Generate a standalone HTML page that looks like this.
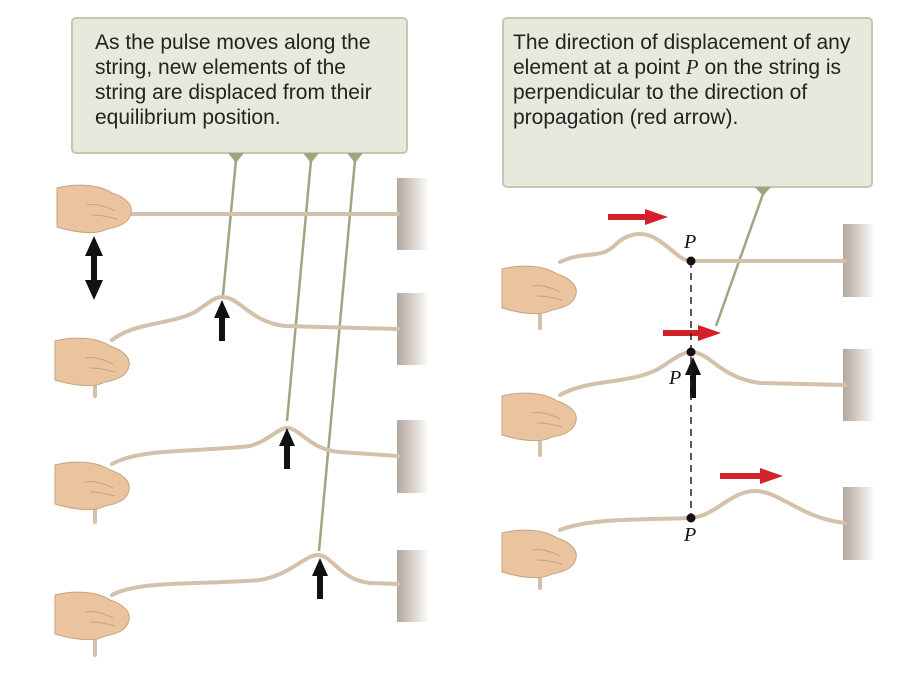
<!DOCTYPE html>
<html><head><meta charset="utf-8"><style>
html,body{margin:0;padding:0;background:#fff;}
svg{display:block;}
.s{font-family:"Liberation Sans",sans-serif;}
.p{font-family:"Liberation Serif",serif;font-style:italic;}
</style></head><body>
<svg width="900" height="681" viewBox="0 0 900 681" xmlns="http://www.w3.org/2000/svg">
<defs>
<linearGradient id="wall" x1="0" x2="1" y1="0" y2="0">
<stop offset="0" stop-color="#b3a79e"/><stop offset="0.5" stop-color="#d9d1cb"/><stop offset="1" stop-color="#ffffff"/>
</linearGradient>
<g id="hand">
<path d="M0,3 C15,-1 40,-2 55,8 C68,12 76,20 74,28 C72,38 62,42 50,44 C40,50 20,48 0,42 Z" fill="#e9c49f" stroke="#c9a27e" stroke-width="1"/>
<path d="M30,20 C40,18 50,22 58,26 M35,30 C45,30 52,32 60,34" fill="none" stroke="#c9a27e" stroke-width="1"/>
</g>
</defs>

<rect x="72" y="18" width="335" height="135" rx="4" fill="#e7e9dd" stroke="#c5c7b0" stroke-width="2"/>
<rect x="503" y="18" width="369" height="169" rx="4" fill="#e7e9dd" stroke="#c5c7b0" stroke-width="2"/>
<text class="s" font-size="21" fill="#222">
<tspan x="95" y="49">As the pulse moves along the</tspan>
<tspan x="95" y="74">string, new elements of the</tspan>
<tspan x="95" y="99">string are displaced from their</tspan>
<tspan x="95" y="124">equilibrium position.</tspan>
</text>
<text class="s" font-size="21" fill="#222">
<tspan x="513" y="49">The direction of displacement of any</tspan>
<tspan x="513" y="74">element at a point <tspan class="p">P</tspan> on the string is</tspan>
<tspan x="513" y="99">perpendicular to the direction of</tspan>
<tspan x="513" y="124">propagation (red arrow).</tspan>
</text>

<g fill="#a3a47f">
<path d="M228,153 L244,153 L236,163z"/><path d="M303,153 L319,153 L311,163z"/><path d="M347,153 L363,153 L355,163z"/>
<path d="M755,187 L771,187 L763,196z"/>
</g>
<g stroke="#a3a47f" stroke-width="2.5" fill="none">
<line x1="236" y1="160" x2="223" y2="295"/>
<line x1="311" y1="160" x2="287" y2="421"/>
<line x1="355" y1="160" x2="319" y2="551"/>
<line x1="763" y1="194" x2="716" y2="326"/>
</g>

<g fill="url(#wall)">
<rect x="397" y="178" width="32" height="72"/>
<rect x="397" y="293" width="32" height="72"/>
<rect x="397" y="420" width="32" height="73"/>
<rect x="397" y="550" width="32" height="72"/>
<rect x="843" y="224" width="32" height="73"/>
<rect x="843" y="349" width="32" height="72"/>
<rect x="843" y="487" width="32" height="73"/>
</g>

<g stroke="#d4c1ab" stroke-width="4" fill="none" stroke-linecap="round">
<path d="M125,214 L398,214"/><path d="M62,226 L90,208"/>
<path d="M112,340 C135,322 170,325 195,312 C210,302 215,297 222,297 C240,297 250,322 285,326 L398,329"/>
<path d="M95,375 L95,396"/>
<path d="M112,464 C140,448 200,452 250,446 C270,440 278,428 287,428 C300,428 310,450 340,452 L398,456"/>
<path d="M95,500 L95,522"/>
<path d="M112,595 C140,580 200,585 260,580 C290,575 305,555 318,555 C332,555 340,580 370,583 L398,584"/>
<path d="M95,630 L95,655"/>
<path d="M560,262 C585,250 600,260 615,245 C625,235 640,230 655,238 C672,248 680,261 691,261 L845,261"/>
<path d="M540,300 L540,328"/>
<path d="M560,395 C590,378 630,385 660,368 C675,358 683,352 691,352 C710,352 720,378 760,383 L845,385"/>
<path d="M540,428 L540,455"/>
<path d="M560,530 C590,518 640,520 690,518 C715,517 730,491 755,491 C780,491 800,518 845,523"/>
<path d="M540,565 L540,588"/>
</g>

<use href="#hand" transform="translate(57,185)"/>
<use href="#hand" transform="translate(55,338)"/>
<use href="#hand" transform="translate(55,462)"/>
<use href="#hand" transform="translate(55,592)"/>
<use href="#hand" transform="translate(502,266)"/>
<use href="#hand" transform="translate(502,393)"/>
<use href="#hand" transform="translate(502,530)"/>

<g fill="#111">
<path d="M94,236 L103,256 L97,256 L97,280 L103,280 L94,300 L85,280 L91,280 L91,256 L85,256z"/>
<path d="M222,300 L230,318 L225,318 L225,341 L219,341 L219,318 L214,318z"/>
<path d="M287,428 L295,446 L290,446 L290,469 L284,469 L284,446 L279,446z"/>
<path d="M320,558 L328,576 L323,576 L323,599 L317,599 L317,576 L312,576z"/>
<path d="M693,357 L701,375 L696,375 L696,398 L690,398 L690,375 L685,375z"/>
</g>

<g fill="#d3202a">
<path d="M608,214 L645,214 L645,209 L668,217 L645,225 L645,220 L608,220z"/>
<path d="M663,330 L698,330 L698,325 L721,333 L698,341 L698,336 L663,336z"/>
<path d="M720,473 L760,473 L760,468 L783,476 L760,484 L760,479 L720,479z"/>
</g>

<line x1="691" y1="261" x2="691" y2="518" stroke="#222" stroke-width="1.5" stroke-dasharray="7,5"/>
<g fill="#111"><circle cx="691" cy="261" r="4.5"/><circle cx="691" cy="352" r="4.5"/><circle cx="691" cy="518" r="4.5"/></g>
<g class="p" font-size="20" fill="#111">
<text x="684" y="248">P</text>
<text x="669" y="384">P</text>
<text x="684" y="541">P</text>
</g>
</svg>
</body></html>
